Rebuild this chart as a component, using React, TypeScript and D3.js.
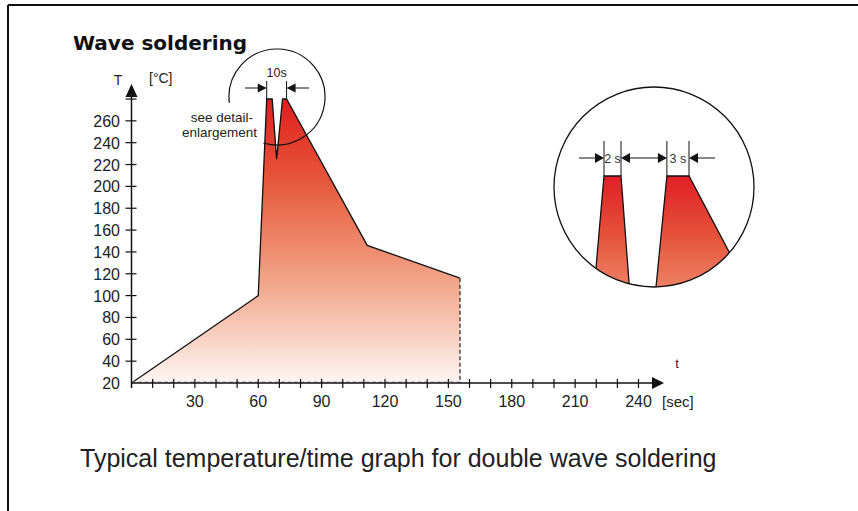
import React from "react";
import * as d3 from "d3";

// ---- data ----
const profileTime = [0, 60, 64, 66.6, 68.7, 71.5, 73.4, 111.6, 155.5];
const profileTemp = [20, 100, 280, 280, 225, 280, 280, 146, 116];
const xTickValues = d3.range(10, 250, 10);
const xTickLabels = [30, 60, 90, 120, 150, 180, 210, 240];
const yTickValues = d3.range(40, 300, 20);
const yTickLabels = [20, 40, 60, 80, 100, 120, 140, 160, 180, 200, 220, 240, 260];
// detail enlargement (seconds within the 10 s window, temperature)
const wave1Time = [-1.27, 0, 2, 3.1];
const wave1Temp = [180, 280, 280, 180];
const wave2Time = [5.97, 7.4, 10, 17.7];
const wave2Temp = [180, 280, 280, 180];
const detailMarks = [0, 2, 7.4, 10];

const W = 858;
const H = 511;
const FONT = "'Liberation Sans', Arial, sans-serif";

export default function App() {
  const x = d3.scaleLinear().domain([0, 240]).range([131.5, 638.5]);
  const y = d3.scaleLinear().domain([20, 280]).range([383, 99]);

  const pts: [number, number][] = profileTime.map((t, i) => [t, profileTemp[i]]);
  const area = d3
    .area<[number, number]>()
    .x((d) => x(d[0]))
    .y0(y(20))
    .y1((d) => y(d[1]));
  const line = d3
    .line<[number, number]>()
    .x((d) => x(d[0]))
    .y((d) => y(d[1]));

  const lastT = profileTime[profileTime.length - 1];
  const lastV = profileTemp[profileTemp.length - 1];

  // detail scales
  const dx = d3.scaleLinear().domain([0, 10]).range([604, 689]);
  const dy = d3.scaleLinear().domain([180, 280]).range([300, 176]);
  const w1: [number, number][] = wave1Time.map((t, i) => [t, wave1Temp[i]]);
  const w2: [number, number][] = wave2Time.map((t, i) => [t, wave2Temp[i]]);
  const dLine = d3
    .line<[number, number]>()
    .x((d) => dx(d[0]))
    .y((d) => dy(d[1]));

  // magnifier circle on main chart
  const mcx = 277,
    mcy = 97,
    mr = 48;
  const mp = d3.path();
  const a0 = (173 * Math.PI) / 180;
  const a1 = ((106.5 + 360) * Math.PI) / 180;
  mp.moveTo(mcx + mr * Math.cos(a0), mcy + mr * Math.sin(a0));
  mp.arc(mcx, mcy, mr, a0, a1, false);

  const dcx = 654,
    dcy = 187,
    dr = 100;

  const peakL = x(profileTime[2]);
  const peakR = x(profileTime[6]);
  const peakY = y(280);

  const arrowHead = (tipX: number, tipY: number, dir: number, len = 9, half = 4.5) =>
    `M${tipX},${tipY}L${tipX - dir * len},${tipY - half}L${tipX - dir * len},${tipY + half}Z`;

  return (
    <svg
      width={W}
      height={H}
      style={{ position: "absolute", left: 0, top: 0, background: "#fff" }}
      fontFamily={FONT}
    >
      <defs>
        <linearGradient id="mainGrad" gradientUnits="userSpaceOnUse" x1="0" y1={y(280)} x2="0" y2={y(20)}>
          <stop offset="0" stopColor="#e01f1f" />
          <stop offset="0.3" stopColor="#e65a3c" />
          <stop offset="0.65" stopColor="#f2a68a" />
          <stop offset="1" stopColor="#fdf6f3" />
        </linearGradient>
        <linearGradient id="detGrad" gradientUnits="userSpaceOnUse" x1="0" y1="176" x2="0" y2="290">
          <stop offset="0" stopColor="#e01f26" />
          <stop offset="0.5" stopColor="#e5503a" />
          <stop offset="1" stopColor="#ee8466" />
        </linearGradient>
        <clipPath id="detClip">
          <circle cx={dcx} cy={dcy} r={dr} />
        </clipPath>
      </defs>

      {/* frame */}
      <line x1={8} y1={5} x2={W} y2={5} stroke="#111" strokeWidth={2} />
      <line x1={8} y1={5} x2={8} y2={H} stroke="#111" strokeWidth={2} />

      {/* title */}
      <text x={73} y={50} fontSize={20} fontWeight="bold" fill="#111" fontFamily="'DejaVu Sans', sans-serif">
        Wave soldering
      </text>

      {/* area */}
      <path d={area(pts) || ""} fill="url(#mainGrad)" />
      <path d={line(pts) || ""} fill="none" stroke="#111" strokeWidth={1.3} strokeLinejoin="miter" />
      <line
        x1={x(lastT)}
        y1={y(lastV)}
        x2={x(lastT)}
        y2={y(20)}
        stroke="#222"
        strokeWidth={1.2}
        strokeDasharray="4,2.5"
      />
      <line
        x1={x(0)}
        y1={y(20) - 1}
        x2={x(lastT)}
        y2={y(20) - 1}
        stroke="#999"
        strokeWidth={1}
        strokeDasharray="4,2.5"
      />

      {/* x axis */}
      <line x1={x(0)} y1={y(20)} x2={654} y2={y(20)} stroke="#111" strokeWidth={1.5} />
      <path d={arrowHead(664, y(20), 1, 12, 6)} fill="#111" />
      {xTickValues.map((v) => (
        <line key={"xt" + v} x1={x(v)} x2={x(v)} y1={y(20) - 4} y2={y(20) + 5} stroke="#111" strokeWidth={1.2} />
      ))}
      {xTickLabels.map((v) => (
        <text key={"xl" + v} x={x(v)} y={407} textAnchor="middle" fontSize={16} fill="#222">
          {v}
        </text>
      ))}
      <text x={677} y={368} textAnchor="middle" fontSize={13} fill="#222">
        t
      </text>
      <text x={662} y={407} fontSize={15} fill="#222">
        [sec]
      </text>

      {/* y axis */}
      <line x1={x(0)} y1={y(20) + 5} x2={x(0)} y2={96} stroke="#111" strokeWidth={1.5} />
      <path d={`M${x(0)},84L${x(0) - 6},97L${x(0) + 6},97Z`} fill="#111" />
      {yTickValues.map((v) => (
        <line key={"yt" + v} x1={x(0) - 6} x2={x(0) + 5} y1={y(v)} y2={y(v)} stroke="#111" strokeWidth={1.2} />
      ))}
      {yTickLabels.map((v) => (
        <text key={"yl" + v} x={120} y={y(v) + 6} textAnchor="end" fontSize={16} fill="#222">
          {v}
        </text>
      ))}
      <text x={118} y={85} textAnchor="middle" fontSize={14} fill="#222">
        T
      </text>
      <text x={149} y={83} fontSize={14} fill="#222">
        [°C]
      </text>

      {/* 10 s marker */}
      <line x1={peakL} x2={peakL} y1={81} y2={peakY} stroke="#111" strokeWidth={1} />
      <line x1={peakR} x2={peakR} y1={81} y2={peakY} stroke="#111" strokeWidth={1} />
      <line x1={245} x2={peakL - 8} y1={88} y2={88} stroke="#111" strokeWidth={1} />
      <path d={arrowHead(peakL, 88, 1, 9, 4.5)} fill="#111" />
      <line x1={peakR + 8} x2={309} y1={88} y2={88} stroke="#111" strokeWidth={1} />
      <path d={arrowHead(peakR, 88, -1, 9, 4.5)} fill="#111" />
      <text x={(peakL + peakR) / 2} y={77} textAnchor="middle" fontSize={12.5} fill="#222">
        10s
      </text>

      {/* magnifier */}
      <path d={mp.toString()} fill="none" stroke="#111" strokeWidth={1.2} />
      <text x={253} y={122} textAnchor="end" fontSize={13.5} fill="#222">
        see detail-
      </text>
      <text x={257} y={137} textAnchor="end" fontSize={13.5} fill="#222">
        enlargement
      </text>

      {/* detail enlargement */}
      <circle cx={dcx} cy={dcy} r={dr} fill="#fff" stroke="none" />
      <g clipPath="url(#detClip)">
        <path d={(dLine(w1) || "") + "Z"} fill="url(#detGrad)" stroke="#111" strokeWidth={1.3} />
        <path d={(dLine(w2) || "") + "Z"} fill="url(#detGrad)" stroke="#111" strokeWidth={1.3} />
      </g>
      <circle cx={dcx} cy={dcy} r={dr} fill="none" stroke="#111" strokeWidth={1.3} />
      {detailMarks.map((m) => (
        <line key={"dm" + m} x1={dx(m)} x2={dx(m)} y1={141} y2={176} stroke="#111" strokeWidth={1} />
      ))}
      {/* arrows */}
      <line x1={579} x2={dx(0) - 8} y1={158} y2={158} stroke="#111" strokeWidth={1} />
      <path d={arrowHead(dx(0), 158, 1, 9, 5)} fill="#111" />
      <line x1={dx(2) + 8} x2={dx(7.4) - 8} y1={158} y2={158} stroke="#111" strokeWidth={1} />
      <path d={arrowHead(dx(2), 158, -1, 9, 5)} fill="#111" />
      <path d={arrowHead(dx(7.4), 158, 1, 9, 5)} fill="#111" />
      <line x1={dx(10) + 8} x2={715} y1={158} y2={158} stroke="#111" strokeWidth={1} />
      <path d={arrowHead(dx(10), 158, -1, 9, 5)} fill="#111" />
      <text x={(dx(0) + dx(2)) / 2} y={163} textAnchor="middle" fontSize={12.5} fill="#333">
        2 s
      </text>
      <text x={(dx(7.4) + dx(10)) / 2} y={163} textAnchor="middle" fontSize={12.5} fill="#333">
        3 s
      </text>

      {/* caption */}
      <text x={80} y={467} fontSize={25} fill="#222">
        Typical temperature/time graph for double wave soldering
      </text>
    </svg>
  );
}
